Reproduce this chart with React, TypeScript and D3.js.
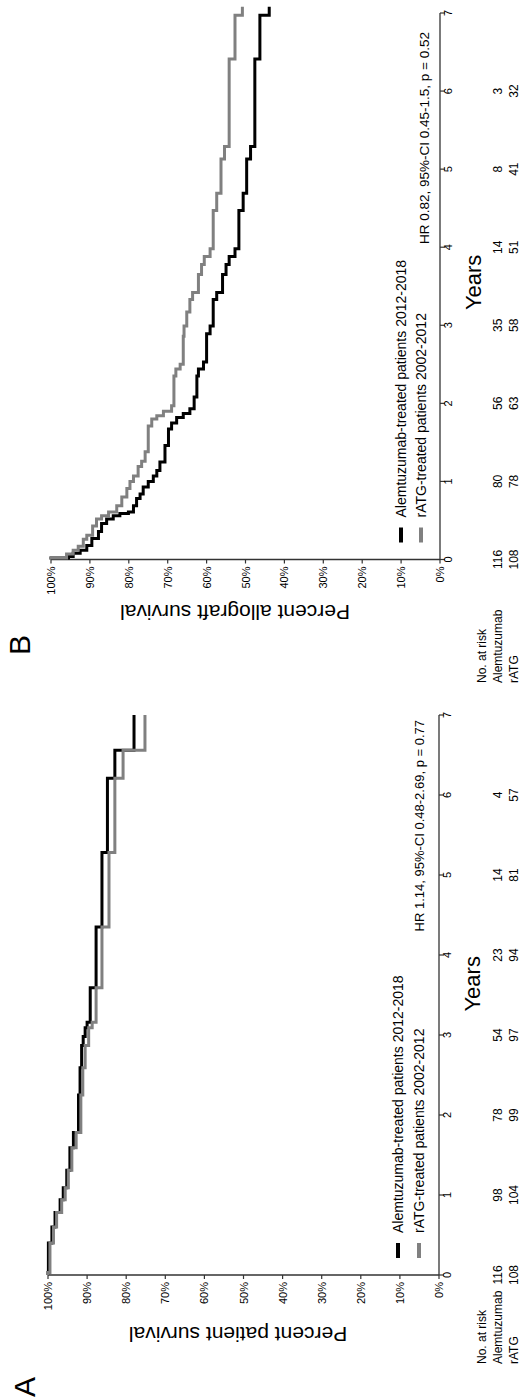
import React from 'react';
import * as d3 from 'd3';

// ---------- data ----------
const yearTicks = [0, 1, 2, 3, 4, 5, 6, 7];
const pctTicks = [0, 10, 20, 30, 40, 50, 60, 70, 80, 90, 100];
const seriesNames = ['Alemtuzumab-treated patients 2012-2018', 'rATG-treated patients 2002-2012'];
const riskRowNames = ['Alemtuzumab', 'rATG'];

// Panel A – patient survival
const aAlemTimes = [0, 0.03, 0.4, 0.6, 0.78, 0.94, 1.09, 1.31, 1.59, 1.78, 2.25, 2.59, 2.87, 2.98, 3.09, 3.16, 3.59, 4.35, 5.28, 6.21, 6.56, 7.0];
const aAlemSurv = [100, 99.9, 99.0, 98.2, 96.9, 96.1, 95.2, 94.4, 93.5, 92.2, 91.8, 91.4, 91.0, 90.5, 90.0, 89.2, 87.7, 86.2, 84.8, 82.9, 78.0, 78.0];
const aRatgTimes = [0, 0.03, 0.4, 0.6, 0.78, 0.94, 1.09, 1.31, 1.59, 1.78, 2.25, 2.59, 2.87, 3.09, 3.16, 3.59, 4.35, 5.28, 6.21, 6.56, 7.0];
const aRatgSurv = [100, 99.5, 98.6, 97.8, 96.5, 95.6, 94.8, 93.9, 92.8, 91.6, 91.1, 90.5, 89.6, 88.7, 87.7, 86.2, 84.4, 82.9, 80.8, 75.2, 75.2];
const aRiskAlem = [116, 98, 78, 54, 23, 14, 4];
const aRiskRatg = [108, 104, 99, 97, 94, 81, 57];
const aHR = 'HR 1.14, 95%-CI 0.48-2.69, p = 0.77';

// Panel B – allograft survival
const bAlemTimes = [0, 0.02, 0.04, 0.08, 0.12, 0.18, 0.27, 0.36, 0.46, 0.52, 0.56, 0.59, 0.61, 0.69, 0.78, 0.84, 0.93, 1.0, 1.07, 1.14, 1.25, 1.46, 1.67, 1.75, 1.82, 1.87, 1.93, 2.08, 2.35, 2.44, 2.53, 2.89, 2.99, 3.33, 3.42, 3.65, 3.78, 3.88, 3.98, 4.47, 4.69, 5.13, 5.29, 6.41, 6.97, 7.08];
const bAlemSurv = [100, 95.5, 94.3, 92.5, 90.8, 89.5, 87.8, 87.0, 85.7, 84.0, 82.3, 80.1, 78.8, 78.0, 77.1, 76.3, 75.0, 73.7, 72.8, 72.0, 70.7, 69.8, 69.0, 67.7, 66.0, 64.3, 63.2, 62.5, 62.1, 60.8, 60.0, 59.1, 58.3, 57.4, 55.9, 55.0, 54.2, 52.7, 51.7, 50.6, 49.7, 48.7, 47.6, 46.3, 43.9, 43.9];
const bRatgTimes = [0, 0.02, 0.07, 0.12, 0.17, 0.26, 0.31, 0.43, 0.52, 0.56, 0.61, 0.69, 0.8, 0.91, 1.0, 1.07, 1.19, 1.26, 1.38, 1.71, 1.8, 1.84, 1.9, 1.97, 2.35, 2.44, 2.5, 2.86, 2.99, 3.17, 3.33, 3.42, 3.65, 3.78, 3.88, 3.98, 4.47, 4.69, 5.13, 5.29, 6.41, 6.97, 7.08];
const bRatgSurv = [100, 96.0, 94.3, 93.0, 91.7, 90.8, 89.3, 88.3, 87.0, 85.2, 83.1, 81.8, 80.5, 79.7, 78.8, 77.6, 76.7, 75.8, 75.0, 74.1, 72.8, 71.1, 69.0, 68.4, 67.9, 66.8, 66.0, 65.8, 65.1, 64.3, 63.6, 62.1, 61.3, 60.6, 59.1, 58.3, 57.4, 56.3, 55.4, 54.2, 52.7, 50.8, 50.8];
const bRiskAlem = [116, 80, 56, 35, 14, 8, 3];
const bRiskRatg = [108, 78, 63, 58, 51, 41, 32];
const bHR = 'HR 0.82, 95%-CI 0.45-1.5, p = 0.52';

const FONT = '"Liberation Sans", Arial, Helvetica, sans-serif';
const COLORS = ['#000000', '#808080'];

type PanelCfg = {
  label: string;
  labelX: number;
  labelY: number;
  x0: number;
  x1: number;
  yTop: number;
  yBottom: number;
  yTitle: string;
  yTitleX: number;
  yTitleCenter: number;
  yearsCenter: number;
  series: { t: number[]; s: number[] }[];
  risk: number[][];
  riskX: number;
  hr: string;
  hrX: number;
  hrY: number;
  hrSize: number;
  legendY: number[];
};

function Panel({ c }: { c: PanelCfg }) {
  const x = d3.scaleLinear().domain([0, 7]).range([c.x0, c.x1]);
  const y = d3.scaleLinear().domain([0, 100]).range([c.yBottom, c.yTop]);
  const line = d3
    .line<[number, number]>()
    .x((d) => x(d[0]))
    .y((d) => y(d[1]))
    .curve(d3.curveStepAfter);
  const axisColor = '#333';
  return (
    <g fontFamily={FONT}>
      <text x={c.labelX} y={c.labelY} fontSize={30} fill="#000">{c.label}</text>
      {/* y axis */}
      <line x1={c.x0} x2={c.x0} y1={y(0)} y2={y(100)} stroke={axisColor} strokeWidth={1.3} />
      {pctTicks.map((p) => (
        <g key={'p' + p}>
          <line x1={c.x0 - 4} x2={c.x0} y1={y(p)} y2={y(p)} stroke={axisColor} strokeWidth={1.2} />
          <text x={c.x0 - 7} y={y(p) + 4} fontSize={11} textAnchor="end" fill="#000">{p + '%'}</text>
        </g>
      ))}
      <text
        transform={`translate(${c.yTitleX},${c.yTitleCenter}) rotate(-90)`}
        fontSize={21}
        textAnchor="middle"
        fill="#000"
      >
        {c.yTitle}
      </text>
      {/* x axis */}
      <line x1={x(0)} x2={x(7)} y1={c.yBottom} y2={c.yBottom} stroke={axisColor} strokeWidth={1.3} />
      {yearTicks.map((t) => (
        <g key={'t' + t}>
          <line x1={x(t)} x2={x(t)} y1={c.yBottom} y2={c.yBottom + 5} stroke={axisColor} strokeWidth={1.2} />
          <text x={x(t)} y={c.yBottom + 12} fontSize={11} textAnchor="middle" fill="#000">{t}</text>
        </g>
      ))}
      <text x={x(c.yearsCenter)} y={c.yBottom + 41} fontSize={22} textAnchor="middle" fill="#000">Years</text>
      {/* curves */}
      {c.series.map((sr, i) => {
        const pts = sr.t.map((t, k) => [t, sr.s[k]] as [number, number]);
        return <path key={'c' + i} d={line(pts) || ''} fill="none" stroke={COLORS[i]} strokeWidth={3} />;
      })}
      {/* legend */}
      {seriesNames.map((n, i) => (
        <g key={'l' + i}>
          <line x1={c.x0 + 17} x2={c.x0 + 32} y1={c.legendY[i]} y2={c.legendY[i]} stroke={COLORS[i]} strokeWidth={4} />
          <text x={c.x0 + 42} y={c.legendY[i] + 5} fontSize={14} fill="#000">{n}</text>
        </g>
      ))}
      <text x={c.hrX} y={c.hrY} fontSize={c.hrSize} textAnchor="end" fill="#000">{c.hr}</text>
      {/* at risk */}
      <text x={c.riskX} y={486} fontSize={12} fill="#000">No. at risk</text>
      {riskRowNames.map((n, i) => (
        <g key={'r' + i}>
          <text x={c.riskX} y={502 + i * 16} fontSize={12} fill="#000">{n}</text>
          {c.risk[i].map((v, k) => (
            <text key={k} x={x(k)} y={502 + i * 16} fontSize={12} textAnchor="middle" fill="#000">{v}</text>
          ))}
        </g>
      ))}
    </g>
  );
}

const panelA: PanelCfg = {
  label: 'A',
  labelX: 3,
  labelY: 35,
  x0: 125,
  x1: 685,
  yTop: 48,
  yBottom: 439,
  yTitle: 'Percent patient survival',
  yTitleX: 73,
  yTitleCenter: 238,
  yearsCenter: 3.64,
  series: [
    { t: aAlemTimes, s: aAlemSurv },
    { t: aRatgTimes, s: aRatgSurv },
  ],
  risk: [aRiskAlem, aRiskRatg],
  riskX: 36,
  hr: aHR,
  hrX: 680,
  hrY: 424,
  hrSize: 13,
  legendY: [398, 419],
};

const panelB: PanelCfg = {
  label: 'B',
  labelX: 745,
  labelY: 30,
  x0: 840.5,
  x1: 1387,
  yTop: 51,
  yBottom: 440,
  yTitle: 'Percent allograft survival',
  yTitleX: 795,
  yTitleCenter: 235,
  yearsCenter: 3.55,
  series: [
    { t: bAlemTimes, s: bAlemSurv },
    { t: bRatgTimes, s: bRatgSurv },
  ],
  risk: [bRiskAlem, bRiskRatg],
  riskX: 717,
  hr: bHR,
  hrX: 1368,
  hrY: 429,
  hrSize: 13.5,
  legendY: [401, 421],
};

export default function App() {
  return (
    <svg
      width={520}
      height={1400}
      style={{ position: 'absolute', left: 0, top: 0, background: '#fff' }}
    >
      <rect x={0} y={0} width={520} height={1400} fill="#fff" />
      <g transform="translate(0,1400) rotate(-90)">
        <Panel c={panelA} />
        <Panel c={panelB} />
      </g>
    </svg>
  );
}
